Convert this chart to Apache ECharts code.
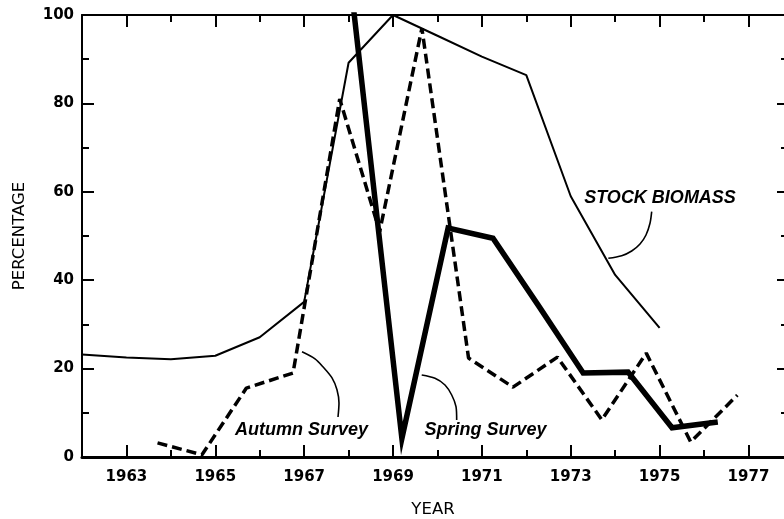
<!DOCTYPE html>
<html>
<head>
<meta charset="utf-8">
<script src="https://cdn.jsdelivr.net/npm/echarts@6/dist/echarts.min.js"></script>
<style>
html,body{margin:0;padding:0;background:#fff;}
#chart{width:784px;height:519px;}
</style>
</head>
<body>
<div id="chart"></div>
<script>
// ---- data ----
const stockYears  = [1962, 1963, 1964, 1965, 1966, 1967, 1968, 1969, 1970, 1971, 1972, 1973, 1974, 1975];
const stockValues = [23.2, 22.5, 22.1, 22.9, 27.1, 35.1, 89.2, 100, 95.3, 90.6, 86.4, 59.0, 41.2, 29.2];

const autumnYears  = [1963.7, 1964.7, 1965.7, 1966.75, 1967.8, 1968.7, 1969.65, 1970.7, 1971.7, 1972.7, 1973.7, 1974.7, 1975.7, 1976.75];
const autumnValues = [3.2, 0.5, 15.6, 19.0, 81.0, 51.0, 97.0, 22.4, 15.8, 22.6, 8.4, 23.5, 3.4, 14.0];

const springYears  = [1968.1, 1969.2, 1970.24, 1971.25, 1972.27, 1973.28, 1974.29, 1975.28, 1976.31];
const springValues = [102.5, 4.2, 51.8, 49.5, 34.3, 19.0, 19.2, 6.6, 7.9];

const majorYearTicks = [1963, 1965, 1967, 1969, 1971, 1973, 1975, 1977];
const minorYearTicks = [1964, 1966, 1968, 1970, 1972, 1974, 1976];
const yearTickLabels = ['1963', '1965', '1967', '1969', '1971', '1973', '1975', '1977'];
const percentTickLabels = ['0', '20', '40', '60', '80', '100'];

const seriesNames = ['STOCK BIOMASS', 'Autumn Survey', 'Spring Survey'];
const axisNames = { x: 'YEAR', y: 'PERCENTAGE' };

// annotation leaders (in data space)
const stockLeaderX  = [1974.822, 1974.784, 1974.694, 1974.559, 1974.372, 1974.147, 1973.846];
const stockLeaderY  = [55.5, 52.87, 50.23, 48.19, 46.6, 45.54, 44.95];
const autumnLeaderX = [1967.762, 1967.784, 1967.739, 1967.627, 1967.424, 1967.244, 1966.952];
const autumnLeaderY = [9.05, 12.2, 15.2, 17.9, 20.4, 22.2, 23.8];
const springLeaderX = [1970.433, 1970.418, 1970.321, 1970.170, 1969.945, 1969.646];
const springLeaderY = [8.37, 11.38, 14.03, 16.29, 17.8, 18.55];
const labelAnchors = [[1975.01, 58.6], [1966.94, 6.1], [1971.08, 6.1]];

const zip = (xs, ys) => xs.map((x, i) => [x, ys[i]]);

const XMIN = 1962, XMAX = 1977.8;
const tickFont = { color: '#000', fontSize: 15, fontWeight: 'bold', fontFamily: 'DejaVu Sans' };

function xAx(pos, ticks, len, line, labels, extra) {
  return Object.assign({
    type: 'value', min: XMIN, max: XMAX, position: pos, gridIndex: 0,
    axisLine: { show: line > 0, onZero: false, lineStyle: { color: '#000', width: line || 1 } },
    axisTick: { show: true, inside: true, length: len, customValues: ticks, lineStyle: { color: '#000', width: 2 } },
    axisLabel: labels ? Object.assign({ show: true, margin: 13, customValues: ticks,
      formatter: v => yearTickLabels[majorYearTicks.indexOf(Math.round(v))] || '' }, tickFont) : { show: false },
    splitLine: { show: false }
  }, extra || {});
}

const leaderStyle = { color: '#000', width: 1.6 };
function leader(xs, ys) {
  return { type: 'line', data: zip(xs, ys), smooth: 0.3, showSymbol: false, silent: true,
    lineStyle: leaderStyle, xAxisIndex: 0, yAxisIndex: 0, z: 3, animation: false };
}

const option = {
  animation: false,
  backgroundColor: '#fff',
  grid: { left: 82, right: 0, top: 15, bottom: 62, containLabel: false, outerBoundsMode: 'none' },
  xAxis: [
    xAx('bottom', majorYearTicks, 12, 3, true, {
      name: axisNames.x, nameLocation: 'middle', nameGap: 44,
      nameTextStyle: { color: '#000', fontSize: 16.5, fontFamily: 'DejaVu Sans' } }),
    xAx('bottom', minorYearTicks, 7, 0, false),
    xAx('top', majorYearTicks, 12, 2, false),
    xAx('top', minorYearTicks, 7, 0, false)
  ],
  yAxis: [
    {
      type: 'value', min: 0, max: 100, interval: 20, position: 'left',
      axisLine: { show: true, lineStyle: { color: '#000', width: 2 } },
      axisTick: { show: true, inside: true, length: 12, lineStyle: { color: '#000', width: 2 } },
      minorTick: { show: true, splitNumber: 2, length: 7, lineStyle: { color: '#000', width: 2 } },
      axisLabel: Object.assign({ margin: 8, formatter: v => percentTickLabels[Math.round(v / 20)] }, tickFont),
      splitLine: { show: false },
      name: axisNames.y, nameLocation: 'middle', nameRotate: 90, nameGap: 54,
      nameTextStyle: { color: '#000', fontSize: 16.5, fontFamily: 'DejaVu Sans' }
    },
    {
      type: 'value', min: 0, max: 100, interval: 20, position: 'right',
      axisLine: { show: false },
      axisTick: { show: true, inside: true, length: 7, lineStyle: { color: '#000', width: 2 } },
      minorTick: { show: true, splitNumber: 2, length: 3, lineStyle: { color: '#000', width: 2 } },
      axisLabel: { show: false },
      splitLine: { show: false }
    }
  ],
  series: [
    { name: seriesNames[0], type: 'line', data: zip(stockYears, stockValues), showSymbol: false,
      lineStyle: { color: '#000', width: 2 }, clip: true, z: 4 },
    { name: seriesNames[1], type: 'line', data: zip(autumnYears, autumnValues), showSymbol: false,
      lineStyle: { color: '#000', width: 3.5, type: [10, 5] }, clip: true, z: 4 },
    { name: seriesNames[2], type: 'line', data: zip(springYears, springValues), showSymbol: false,
      lineStyle: { color: '#000', width: 5.5, join: 'miter' }, clip: true, z: 5 },
    leader(stockLeaderX, stockLeaderY),
    leader(autumnLeaderX, autumnLeaderY),
    leader(springLeaderX, springLeaderY)
  ]
};

const chart = echarts.init(document.getElementById('chart'), null, { renderer: 'canvas' });
chart.setOption(option);

const texts = labelAnchors.map((a, i) => {
  const p = chart.convertToPixel({ xAxisIndex: 0, yAxisIndex: 0 }, a);
  return {
    type: 'text', x: p[0], y: p[1], silent: true, z: 10,
    style: { text: seriesNames[i], fill: '#000', align: 'center', verticalAlign: 'middle',
      font: 'italic bold 18px "Liberation Sans", Arial, sans-serif' }
  };
});
chart.setOption({ graphic: texts });
</script>
</body>
</html>
